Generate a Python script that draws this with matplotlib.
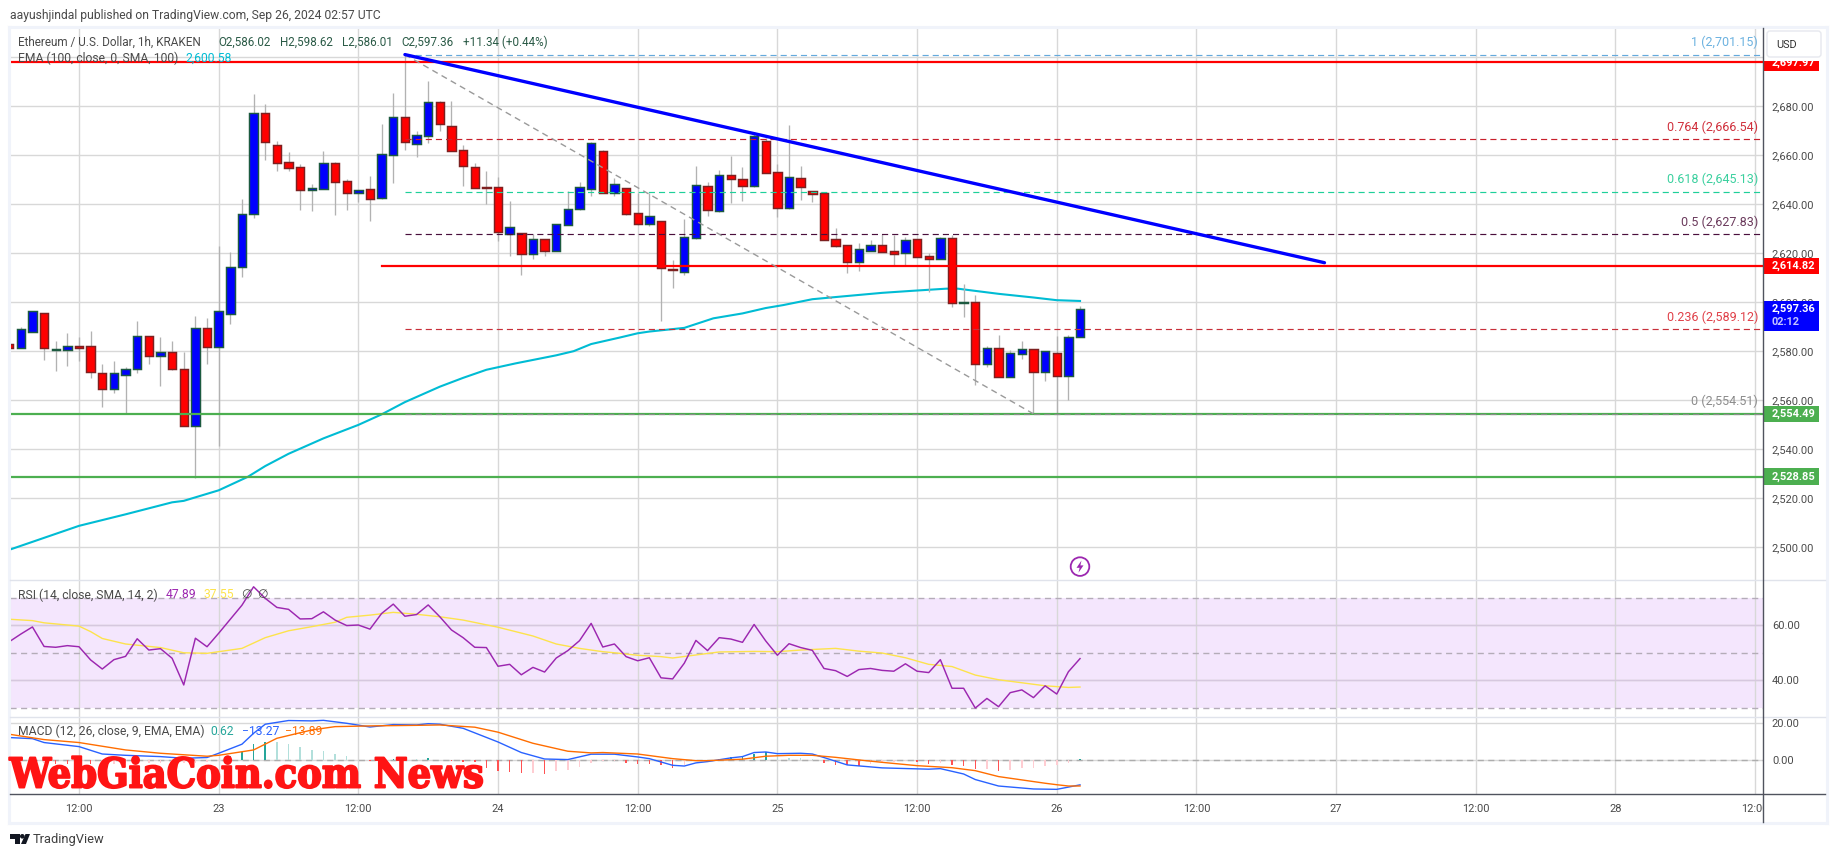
import matplotlib
matplotlib.use("Agg")
import matplotlib.pyplot as plt
import matplotlib.patheffects as pe
from matplotlib.patches import Rectangle, Circle, Polygon, FancyBboxPatch

plt.rcParams["font.family"] = ["Roboto", "DejaVu Sans"]
plt.rcParams["lines.scale_dashes"] = False

# hours counted from Sep 23 00:00, one candle per hour
hours = list(range(-18, 75))

opens = [2583.0, 2581.5, 2588.0, 2595.5, 2580.7, 2580.7, 2582.4, 2582.0, 2571.0, 2564.5, 2570.5, 2573.0, 2586.1,
         2578.2, 2579.6, 2573.0, 2549.6, 2589.4, 2581.9, 2595.1,
         2614.3, 2635.9, 2677.1, 2664.1, 2657.1, 2655.1, 2646.0, 2646.4, 2656.7, 2649.4, 2644.8, 2646.1, 2642.7,
         2660.0, 2675.5, 2664.8, 2668.0, 2681.6, 2672.2, 2662.4, 2655.1, 2646.9, 2646.9, 2627.8, 2628.2, 2619.9,
         2625.7, 2621.1, 2631.7, 2638.0, 2646.4,
         2661.8, 2644.8, 2646.6, 2636.4, 2632.1, 2633.1, 2613.6, 2612.3, 2626.4, 2647.4, 2637.4, 2651.9, 2650.2,
         2647.4, 2665.7, 2653.1, 2638.7, 2650.6, 2645.3, 2644.5, 2625.7, 2623.3, 2616.6, 2621.1, 2623.3, 2620.8,
         2620.3, 2625.7, 2618.8, 2617.8, 2626.1, 2599.9, 2600.0, 2575.0, 2581.2, 2569.7, 2579.1, 2580.8, 2571.7,
         2579.2, 2570.1, 2586.02]
highs = [2583.5, 2590.1, 2596.5, 2595.7, 2584.2, 2587.5, 2586.0, 2588.3, 2574.8, 2576.0, 2573.5, 2592.4, 2586.3,
         2585.8, 2584.2, 2579.6, 2594.4, 2593.7, 2623.0, 2620.7,
         2642.2, 2685.0, 2681.0, 2665.8, 2661.4, 2656.5, 2648.3, 2661.8, 2657.5, 2650.2, 2646.0, 2651.6, 2672.8,
         2685.4, 2701.15, 2669.9, 2690.3, 2682.0, 2682.2, 2664.2, 2656.7, 2653.6, 2651.0, 2641.4, 2628.4, 2627.9,
         2625.9, 2632.2, 2645.4, 2649.1, 2665.6,
         2662.0, 2650.6, 2646.8, 2644.8, 2644.8, 2633.3, 2617.3, 2634.0, 2655.7, 2649.0, 2653.9, 2659.8, 2655.3,
         2669.7, 2667.0, 2656.5, 2672.4, 2655.7, 2645.5, 2644.8, 2630.4, 2623.5, 2624.2, 2625.4, 2627.9, 2627.6,
         2626.8, 2625.9, 2620.0, 2626.8, 2627.5, 2607.5, 2603.0, 2582.2, 2586.7, 2580.6, 2584.2, 2581.0, 2580.2,
         2586.3, 2586.7, 2598.62]
lows = [2581.0, 2581.3, 2587.8, 2576.5, 2572.1, 2574.0, 2576.0, 2569.2, 2557.4, 2563.1, 2554.7, 2571.3, 2574.8,
        2565.8, 2572.5, 2549.4, 2528.4, 2574.8, 2541.5, 2591.3,
        2610.5, 2634.6, 2658.1, 2653.7, 2653.7, 2637.7, 2637.4, 2646.2, 2635.8, 2637.7, 2641.1, 2633.4, 2642.0,
        2648.8, 2662.2, 2659.5, 2665.2, 2670.1, 2661.7, 2647.6, 2646.6, 2640.1, 2625.2, 2619.0, 2611.3, 2617.8,
        2618.9, 2620.9, 2631.5, 2637.8, 2643.5,
        2644.6, 2643.6, 2635.7, 2631.6, 2631.3, 2592.4, 2606.0, 2611.3, 2626.0, 2635.4, 2636.9, 2640.7, 2641.5,
        2647.1, 2652.7, 2635.0, 2638.3, 2641.8, 2641.0, 2625.4, 2622.7, 2612.1, 2613.0, 2620.9, 2620.5, 2615.0,
        2615.0, 2618.5, 2604.4, 2617.6, 2598.3, 2594.2, 2566.3, 2573.6, 2569.5, 2569.5, 2576.9, 2554.5, 2567.9,
        2554.7, 2560.2, 2586.01]
closes = [2581.5, 2589.0, 2596.3, 2581.5, 2581.0, 2582.4, 2581.5, 2571.7, 2564.8, 2571.0, 2573.0, 2586.1, 2578.2,
          2579.7, 2572.9, 2549.6, 2589.4, 2581.9, 2596.3, 2614.3,
          2635.9, 2677.1, 2665.6, 2657.0, 2655.0, 2646.0, 2646.5, 2656.7, 2649.3, 2644.8, 2645.7, 2642.3, 2660.4,
          2675.5, 2665.6, 2668.2, 2681.6, 2672.9, 2661.9, 2655.8, 2646.8, 2646.7, 2628.8, 2630.9, 2619.9, 2625.7,
          2621.1, 2631.8, 2638.0, 2646.9, 2664.9,
          2644.8, 2648.2, 2636.2, 2632.1, 2635.1, 2614.2, 2613.4, 2626.6, 2647.8, 2637.6, 2651.9, 2650.5, 2647.6,
          2667.8, 2653.0, 2638.7, 2651.0, 2647.2, 2644.4, 2625.6, 2623.2, 2616.6, 2621.7, 2623.3, 2620.7, 2619.9,
          2625.3, 2618.7, 2617.8, 2626.1, 2599.9, 2600.0, 2575.0, 2581.2, 2569.7, 2579.2, 2580.8, 2571.7, 2580.0,
          2570.1, 2585.7, 2597.36]

ema_hours = [-18, -15, -12, -8, -4, -3, 0, 2.5, 4, 6, 9, 12, 14, 16, 19, 21, 23, 25.5, 29, 30.5, 32, 34.5, 36, 37,
             40, 42.5, 45, 47, 48.5, 51, 53.5, 57, 59.5, 62.5, 63.5, 67, 70, 72, 74]
ema_vals = [2499.0, 2503.9, 2508.8, 2513.5, 2518.4, 2519.0, 2523.3, 2528.8, 2533.2, 2538.2, 2544.5, 2550.0, 2554.3,
            2559.3, 2565.6, 2569.2, 2572.5, 2575.1, 2578.4, 2580.1, 2583.0, 2585.7, 2587.4, 2588.1, 2589.6, 2593.5,
            2595.5, 2597.7, 2598.9, 2601.3, 2602.4, 2603.9, 2604.7, 2605.6, 2605.6, 2603.5, 2602.0, 2600.9, 2600.58]

rsi = [54.0, 56.8, 59.4, 52.3, 52.0, 52.6, 52.2, 47.4, 44.1, 47.5, 48.7, 55.1, 51.0, 51.5, 48.0, 38.3, 55.3, 52.2,
       57.1, 62.2, 67.3, 74.0, 69.8, 66.5, 65.8, 62.3, 62.4, 64.9, 61.9, 59.9, 60.1, 58.6, 64.3, 67.7, 63.3, 63.9,
       67.4, 63.1, 58.3, 55.5, 52.0, 51.9, 45.1, 45.8, 42.0, 44.7, 43.0, 48.1, 50.8, 54.4, 60.7, 52.1, 53.2, 48.6,
       47.1, 48.2, 40.9, 40.5, 46.2, 54.5, 50.8, 55.5, 55.0, 53.8, 60.3, 54.3, 49.1, 53.3, 51.9, 50.9, 44.3, 43.5,
       41.4, 43.9, 44.3, 43.6, 43.3, 46.0, 43.3, 42.8, 47.5, 37.1, 37.1, 29.9, 33.4, 30.4, 35.5, 36.5, 33.7, 38.0,
       35.0, 43.1, 47.89]
rsi_ma_hours = [-18, -16, -15, -12, -11, -10, -8, -5, -3, -1, 2, 4, 6, 8, 10, 11, 13, 15, 17, 19, 21, 24, 27, 29,
                31, 33, 34, 36, 38, 39, 41, 43, 46, 48, 50, 53, 55, 57, 59, 61, 63, 65, 67, 69, 71, 73, 74]
rsi_ma = [62.2, 61.7, 60.9, 59.7, 57.7, 55.2, 53.2, 51.9, 50.0, 49.8, 51.6, 55.5, 58.0, 59.5, 61.1, 62.9, 63.7, 64.7,
          64.0, 63.1, 61.9, 59.3, 56.1, 53.2, 51.6, 50.4, 50.0, 49.1, 48.6, 48.1, 49.2, 50.3, 50.5, 50.4, 51.0, 51.6,
          50.6, 49.9, 48.2, 45.8, 45.0, 41.9, 40.2, 39.1, 38.0, 37.4, 37.55]

macd_hours = [-18, -16, -15, -12, -10, -8, -5, -3, -1, 0, 2, 3, 4, 6, 8, 9, 11, 13, 15, 17, 18, 19, 21, 24, 26, 28,
              30, 32, 34, 36, 37, 38, 39, 40, 41, 42, 44, 45, 46, 47, 48, 50, 51, 52, 54, 57, 61, 62, 64, 65, 67, 70,
              72, 74]
macd = [12.3, 11.7, 9.6, 7.4, 3.4, 2.7, 2.0, 1.1, 1.5, 3.8, 8.7, 14.6, 19.5, 21.5, 21.3, 21.6, 20.0, 18.0, 19.3,
        19.1, 19.8, 19.5, 17.3, 9.9, 4.2, 0.7, 0.4, 3.3, 3.3, 1.8, 0.9, -0.9, -2.7, -3.1, -1.4, -0.7, 1.3, 2.0, 4.2,
        4.5, 3.6, 3.8, 3.4, 1.5, -2.5, -4.1, -4.8, -4.5, -7.4, -10.4, -13.9, -15.5, -15.7, -13.27]
signal_hours = [-18, -15, -12, -8, -5, -1, 0, 3, 5, 8, 10, 13, 17, 19, 22, 24, 27, 30, 32, 33, 36, 39, 41, 42, 45,
                47, 49, 51, 53, 55, 57, 60, 63, 65, 67, 69, 71, 72, 73, 74]
signal = [14.1, 11.2, 9.6, 5.6, 3.8, 2.2, 2.7, 5.6, 11.9, 16.4, 18.2, 18.6, 18.9, 19.1, 17.9, 15.2, 9.2, 4.9, 4.0,
          4.2, 3.4, 0.9, -0.2, -0.2, 0.6, 2.2, 2.7, 2.7, 1.6, 0.2, -1.1, -2.9, -4.0, -5.6, -8.8, -10.6, -12.4, -13.2,
          -13.9, -13.89]
hist = [-1.8, -1.8, -1.7, -1.6, -1.8, -1.9, -2.0, -2.2, -2.0, -1.8, -1.5, -1.4, -1.3, -1.2, -1.2, -1.2, -1.2, -0.8,
        -0.2, 2.5, 4.7, 8.8, 10.0, 9.7, 8.8, 7.2, 5.6, 5.0, 3.4, 2.3, 0.2, -0.2, 0.3, 0.6, 1.3, 0.5, 1.3, 0.3, -0.4,
        -1.0, -1.1, -4.0, -5.8, -6.1, -7.0, -7.0, -7.3, -6.0, -5.0, -3.4, -1.2, -0.5, -0.5, -1.2, -1.8, -2.0, -2.7,
        -4.1, -2.7, -0.2, 0.2, 0.9, 1.6, 2.3, 3.4, 4.7, 2.0, 1.3, 1.1, 0.5, -1.4, -2.3, -2.5, -2.9, -2.0, -1.5, -1.0,
        -0.3, -1.0, -1.8, -1.2, -2.5, -3.0, -4.7, -4.7, -5.8, -5.2, -4.1, -4.1, -2.9, -2.3, -1.3, 0.62]

fib_levels = [2701.15, 2666.54, 2645.13, 2627.83, 2589.12, 2554.51]
fib_labels = ["1 (2,701.15)", "0.764 (2,666.54)", "0.618 (2,645.13)", "0.5 (2,627.83)", "0.236 (2,589.12)",
              "0 (2,554.51)"]
fib_line_colors = ["#64a9dc", "#c8202c", "#1fd09a", "#4a0f3c", "#c8303a", "#8c8c8c"]
fib_text_colors = ["#6cb2e0", "#d0303c", "#3bd09f", "#6b3a5c", "#e04048", "#8c8c8c"]
trend_hours = [16, 95]
trend_prices = [2701.15, 2616.2]
fib_trend_hours = [16, 70]
fib_trend_prices = [2701.15, 2554.51]
resist_red = [2697.97, 2614.82]
red_starts = [-18, 14]
support_green = [2554.49, 2528.85]

price_ticks = [2500, 2520, 2540, 2560, 2580, 2600, 2620, 2640, 2660, 2680, 2700]
price_labels = ["2,500.00", "2,520.00", "2,540.00", "2,560.00", "2,580.00", "2,600.00", "2,620.00", "2,640.00",
                "2,660.00", "2,680.00", ""]
time_ticks = [-12, 0, 12, 24, 36, 48, 60, 72, 84, 96, 108, 120, 132]
time_labels = ["12:00", "23", "12:00", "24", "12:00", "25", "12:00", "26", "12:00", "27", "12:00", "28", "12:00"]

W, H = 1835, 857
L, R = 9.5, 1763.3
TXT = "#4a4a4a"
GRID = "#d8d8d8"
FS = 7.9
LEG = 8.7


def pane(top, bottom):
    return fig.add_axes([L / W, 1 - bottom / H, (R - L) / W, (bottom - top) / H])


def style(ax, yticks, ylabels):
    ax.set_xlim(-17.97, 132.7)
    ax.set_xticks(time_ticks)
    ax.set_xticklabels([])
    ax.set_yticks(yticks)
    ax.set_yticklabels(ylabels)
    ax.yaxis.tick_right()
    ax.tick_params(length=0, labelsize=FS, labelcolor=TXT, pad=6.2)
    ax.grid(True, color=GRID, lw=1.0)
    ax.set_axisbelow(True)
    for s in ax.spines.values():
        s.set_visible(False)


def price_tag(ax, level, label, color):
    ax.add_patch(Rectangle((1.0, level - 3.4), 55.7 / (R - L), 6.8, transform=ax.get_yaxis_transform(),
                           fc=color, ec="none", clip_on=False, zorder=20))
    ax.text(1 + 8.7 / (R - L), level, label, transform=ax.get_yaxis_transform(), color="white", fontsize=FS,
            fontweight="bold", va="center", ha="left", zorder=21, clip_on=False)


fig = plt.figure(figsize=(W / 100, H / 100), dpi=100, facecolor="white")

# price pane
ax = pane(27.5, 579.5)
ax.set_ylim(2486.9, 2712.2)
style(ax, price_ticks, price_labels)

ax.plot(ema_hours, ema_vals, color="#00bcd4", lw=1.5, zorder=2)
ax.vlines(hours, lows, highs, color="#b2b2b2", lw=0.95, zorder=3)
up = [c >= o for o, c in zip(opens, closes)]
ax.bar(hours, [abs(c - o) for o, c in zip(opens, closes)], bottom=[min(o, c) for o, c in zip(opens, closes)],
       width=0.72, color=["#0000ff" if u else "#ff0000" for u in up],
       edgecolor=["#1c5a40" if u else "#7d2020" for u in up], linewidth=1.05, zorder=4)

for level, start in zip(resist_red, red_starts):
    ax.plot([start, 133], [level, level], color="#ff0000", lw=1.6, zorder=5)
for level in support_green:
    ax.plot([-18, 133], [level, level], color="#4caf50", lw=1.6, zorder=5)
for level, c, t, lab in zip(fib_levels, fib_line_colors, fib_text_colors, fib_labels):
    ax.plot([16, 133], [level, level], color=c, lw=0.85, ls=(0, (4.4, 2.9)), zorder=6)
    ax.annotate(lab, xy=(132, level), xytext=(2.0, 8.8), textcoords="offset points", color=t, fontsize=9.0,
                ha="right", va="center", zorder=6)
ax.plot(fib_trend_hours, fib_trend_prices, color="#9a9a9a", lw=1.0, ls=(0, (4.4, 3.2)), zorder=6)
ax.plot(trend_hours, trend_prices, color="#0000ff", lw=2.4, zorder=7, solid_capstyle="round")

price_tag(ax, resist_red[0], "2,697.97", "#ff0000")
price_tag(ax, resist_red[1], "2,614.82", "#ff0000")
price_tag(ax, support_green[0], "2,554.49", "#4caf50")
price_tag(ax, support_green[1], "2,528.85", "#4caf50")
ax.add_patch(Rectangle((1.0, closes[-1] - 8.9), 55.7 / (R - L), 12.1, transform=ax.get_yaxis_transform(),
                       fc="#0000ff", ec="none", clip_on=False, zorder=20))
ax.text(1 + 8.7 / (R - L), closes[-1], "2,597.36", transform=ax.get_yaxis_transform(), color="white", fontsize=FS,
        fontweight="bold", va="center", zorder=21, clip_on=False)
ax.text(1 + 8.7 / (R - L), closes[-1] - 5.3, "02:12", transform=ax.get_yaxis_transform(), color="#c4c4ff",
        fontsize=FS, fontweight="bold", va="center", zorder=21, clip_on=False)

# RSI pane
ax2 = pane(579.5, 716.7)
ax2.set_ylim(26.76, 76.65)
style(ax2, [40, 60], ["40.00", "60.00"])
ax2.axhspan(30, 70, color="#f4e6fd", lw=0, zorder=0.5)
for level in [40, 60]:
    ax2.axhline(level, color="#d6c8de", lw=1.0, zorder=0.8)
for level in [30, 50, 70]:
    ax2.axhline(level, color="#b4acb8", lw=1.0, ls=(0, (4.4, 3.2)), zorder=1)
ax2.plot(rsi_ma_hours, rsi_ma, color="#fde34c", lw=1.0, zorder=2)
ax2.plot(hours, rsi, color="#9c27b0", lw=1.05, zorder=3)

# MACD pane
ax3 = pane(716.7, 794.3)
ax3.set_ylim(-18.38, 23.57)
style(ax3, [0, 20], ["0.00", "20.00"])
ax3.axhline(0, color="#adadad", lw=1.0, ls=(0, (4.4, 3.2)), zorder=1)
colors = []
for i, v in enumerate(hist):
    prev = hist[i - 1] if i else v
    if v >= 0:
        colors.append("#26a69a" if v >= prev else "#b2dfdb")
    else:
        colors.append("#ffcdd2" if v >= prev else "#ff5252")
ax3.bar(hours, hist, width=0.13, color=colors, zorder=2)
ax3.plot(macd_hours, macd, color="#2962ff", lw=1.0, zorder=3)
ax3.plot(signal_hours, signal, color="#ff6d00", lw=1.0, zorder=4)
ax3.set_xticklabels(time_labels)
ax3.tick_params(axis="x", pad=7.0)

# frame, header texts and logos sit on a top layer in pixel units
ov = fig.add_axes([0, 0, 1, 1], zorder=10)
ov.set_xlim(0, W)
ov.set_ylim(H, 0)
ov.axis("off")
ov.patch.set_visible(False)

ov.add_patch(Rectangle((1764, 27.5), 61, 33.5, fc="white", ec="none"))
ov.add_patch(Rectangle((1764, 795), 61, 26, fc="white", ec="none"))
ov.add_patch(FancyBboxPatch((1768.5, 32.5), 51, 23, boxstyle="round,pad=1.5,rounding_size=3", fc="white",
                            ec="#e6e8ee", lw=1.0))
ov.text(1776, 44.5, "USD", color="#333333", fontsize=FS, va="center")

for x0, y0, x1, y1 in [(8.5, 26.5, 1827, 26.5), (8.5, 26.5, 8.5, 823), (8.5, 823, 1827, 823), (1827, 26.5, 1827, 823)]:
    ov.plot([x0, x1], [y0, y1], color="#f0f3fa", lw=2.2)
ov.plot([9.5, 1825], [579.5, 579.5], color="#e0e3eb", lw=1.0)
ov.plot([9.5, 1825], [716.7, 716.7], color="#e0e3eb", lw=1.0)
ov.plot([9.5, 1825], [794.3, 794.3], color="#50535e", lw=1.0)
ov.plot([R, R], [27.5, 822], color="#50535e", lw=1.0)

ov.text(10, 15, "aayushjindal published on TradingView.com, Sep 26, 2024 02:57 UTC", color=TXT, fontsize=8.76,
        va="center")

GRN = "#2a5a46"
ov.text(18, 42, "Ethereum / U.S. Dollar, 1h, KRAKEN", color=TXT, fontsize=8.5, va="center")
for x, s in [(218, "O2,586.02"), (280, "H2,598.62"), (341.6, "L2,586.01"), (401.7, "C2,597.36"),
             (462.6, "+11.34 (+0.44%)")]:
    ov.text(x, 42, s, color=GRN, fontsize=8.4, va="center")
ov.text(18, 58.7, "EMA (100, close, 0, SMA, 100)", color=TXT, fontsize=LEG, va="center")
ov.text(185, 58.7, "2,600.58", color="#00bcd4", fontsize=LEG, va="center")

ov.text(18.4, 595, "RSI (14, close, SMA, 14, 2)", color=TXT, fontsize=LEG, va="center")
ov.text(165.7, 595, "47.89", color="#9c27b0", fontsize=LEG, va="center")
ov.text(203, 595, "37.55", color="#fde34c", fontsize=LEG, va="center")
ov.text(241, 595, "∅", color=TXT, fontsize=LEG, va="center")
ov.text(257, 595, "∅", color=TXT, fontsize=LEG, va="center")

ov.text(18, 731.7, "MACD (12, 26, close, 9, EMA, EMA)", color=TXT, fontsize=LEG, va="center")
ov.text(210.5, 731.7, "0.62", color="#26a69a", fontsize=LEG, va="center")
ov.text(242, 731.7, "−13.27", color="#2962ff", fontsize=LEG, va="center")
ov.text(285, 731.7, "−13.89", color="#ff6d00", fontsize=LEG, va="center")

# watermark
ov.text(9.5, 787.5, "WebGiaCoin.com News", color="#ff1414", family="DejaVu Serif", stretch="condensed",
        fontweight="bold", fontsize=29.6, va="baseline", ha="left",
        path_effects=[pe.withStroke(linewidth=1.4, foreground="#ff1414")])

# lightning badge
ov.add_patch(Circle((1080, 566.6), 9.3, fc="white", ec="#9c27b0", lw=1.3))
ov.add_patch(Polygon([(1081.5, 560.5), (1076.5, 567.8), (1079.6, 567.8), (1078.5, 572.7), (1083.5, 565.4),
                      (1080.4, 565.4)], fc="#9c27b0", ec="none"))

# TradingView logo
ov.add_patch(Polygon([(10, 834), (20, 834), (20, 844), (15, 844), (15, 838.5), (10, 838.5)], fc="#131722", ec="none"))
ov.add_patch(Circle((22.3, 836.3), 2.3, fc="#131722", ec="none"))
ov.add_patch(Polygon([(25.5, 834), (30, 834), (26, 844), (21, 844)], fc="#131722", ec="none"))
ov.text(33, 839, "TradingView", color="#3f3f3f", fontsize=9.3, va="center")

fig.savefig("out.png", dpi=100)
